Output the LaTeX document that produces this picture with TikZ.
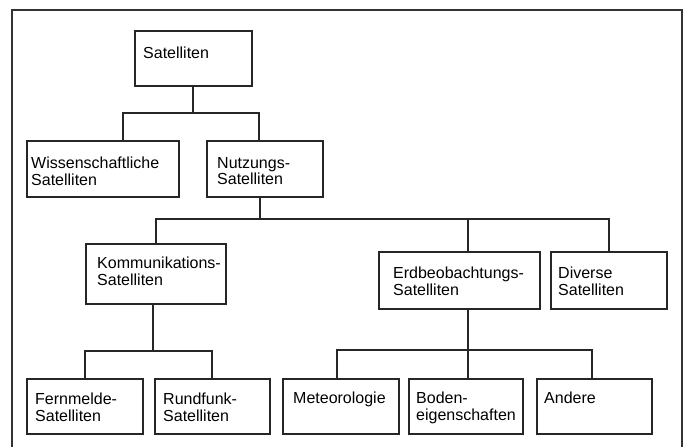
\documentclass[tikz,border=0pt]{standalone}
\usepackage{fontspec}
\setmainfont{Liberation Sans}
\begin{document}
\begin{tikzpicture}[x=1pt,y=-1pt,
  box/.style={draw=black!85,line width=1.3pt,anchor=north west,inner sep=0pt,outer sep=0pt,rectangle},
  lbl/.style={anchor=north west,inner sep=0pt,align=left,text=black,font=\fontsize{16}{16.5}\selectfont},
  conn/.style={draw=black!85,line width=1.3pt},
  frame/.style={draw=black!80,line width=1.3pt}]
\useasboundingbox (0,0) rectangle (683,447);
\draw[frame] (12,455) -- (12,10) -- (682,10) -- (682,455);
% boxes
\node[box,minimum width=117pt,minimum height=55pt] (sat) at (135,31) {};
\node[box,minimum width=152pt,minimum height=56pt] (wiss) at (27,141) {};
\node[box,minimum width=116pt,minimum height=56pt] (nutz) at (207,141) {};
\node[box,minimum width=140pt,minimum height=60pt] (komm) at (86,244) {};
\node[box,minimum width=161pt,minimum height=57pt] (erd) at (379,252) {};
\node[box,minimum width=116pt,minimum height=57pt] (div) at (551,252) {};
\node[box,minimum width=116pt,minimum height=55pt] (fern) at (27,379) {};
\node[box,minimum width=115pt,minimum height=55pt] (rund) at (155,379) {};
\node[box,minimum width=116pt,minimum height=55pt] (met) at (283,379) {};
\node[box,minimum width=114pt,minimum height=55pt] (bod) at (409,379) {};
\node[box,minimum width=115pt,minimum height=55pt] (ander) at (537,379) {};
% labels
\node[lbl] (tsat) at (143,47) {Satelliten};
\node[lbl] (twiss) at (31,157) {Wissenschaftliche\\Satelliten};
\node[lbl] (tnutz) at (217,157) {Nutzungs-\\Satelliten};
\node[lbl] (tkomm) at (97,257) {Kommunikations-\\Satelliten};
\node[lbl] (terd) at (393,267) {Erdbeobachtungs-\\Satelliten};
\node[lbl] (tdiv) at (558,267) {Diverse\\Satelliten};
\node[lbl] (tfern) at (35,393) {Fernmelde-\\Satelliten};
\node[lbl] (trund) at (163,393) {Rundfunk-\\Satelliten};
\node[lbl] (tmet) at (293,392) {Meteorologie};
\node[lbl] (tbod) at (416,392) {Boden-\\eigenschaften};
\node[lbl] (tander) at (544,392) {Andere};
% connectors
\draw[conn] ([xshift=58pt]sat.south west) -- ++(0,27);
\draw[conn] ([xshift=96pt]wiss.north west) -- ++(0,-28) -| ([xshift=52pt]nutz.north west);
\draw[conn] ([xshift=53pt]nutz.south west) -- ++(0,22);
\draw[conn] ([xshift=70pt]komm.north west) -- ++(0,-25) -| ([xshift=58pt]div.north west);
\draw[conn] ([xshift=89pt]erd.north west) -- ++(0,-33);
\draw[conn] ([xshift=67pt]komm.south west) -- ++(0,47);
\draw[conn] ([xshift=58pt]fern.north west) -- ++(0,-28) -| ([xshift=57pt]rund.north west);
\draw[conn] ([xshift=89pt]erd.south west) -- ([xshift=59pt]bod.north west);
\draw[conn] ([xshift=54pt]met.north west) -- ++(0,-29) -| ([xshift=55pt]ander.north west);
\end{tikzpicture}
\end{document}
